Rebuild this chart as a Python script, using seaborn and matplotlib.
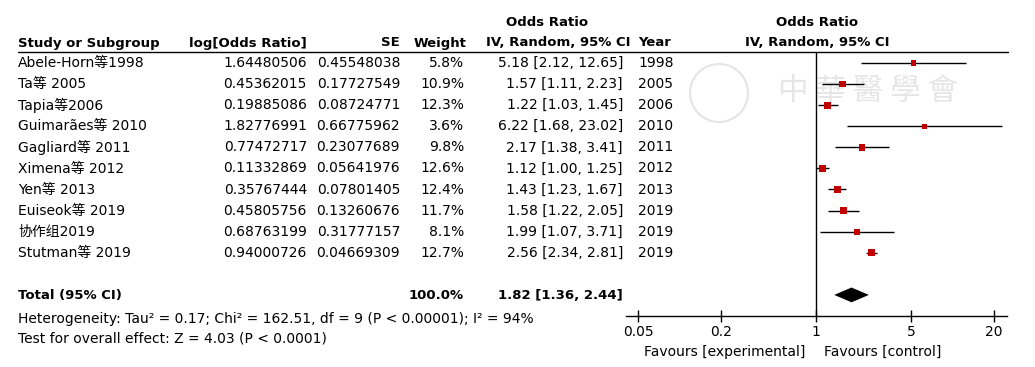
import numpy as np
import pandas as pd
import matplotlib
matplotlib.use('Agg')
import matplotlib.pyplot as plt
import seaborn as sns

sns.set_style('white')
plt.rcParams['font.family'] = ['DejaVu Sans', 'Noto Sans CJK SC']
plt.rcParams['text.color'] = 'black'
plt.rcParams['xtick.color'] = 'black'

# datos del forest plot
estudios = ['Abele-Horn等1998', 'Ta等 2005', 'Tapia等2006', 'Guimarães等 2010', 'Gagliard等 2011',
            'Ximena等 2012', 'Yen等 2013', 'Euiseok等 2019', '协作组2019', 'Stutman等 2019']
log_or = ['1.64480506', '0.45362015', '0.19885086', '1.82776991', '0.77472717',
          '0.11332869', '0.35767444', '0.45805756', '0.68763199', '0.94000726']
se = ['0.45548038', '0.17727549', '0.08724771', '0.66775962', '0.23077689',
      '0.05641976', '0.07801405', '0.13260676', '0.31777157', '0.04669309']
peso = [5.8, 10.9, 12.3, 3.6, 9.8, 12.6, 12.4, 11.7, 8.1, 12.7]
odds = [5.18, 1.57, 1.22, 6.22, 2.17, 1.12, 1.43, 1.58, 1.99, 2.56]
ic_inf = [2.12, 1.11, 1.03, 1.68, 1.38, 1.00, 1.23, 1.22, 1.07, 2.34]
ic_sup = [12.65, 2.23, 1.45, 23.02, 3.41, 1.25, 1.67, 2.05, 3.71, 2.81]
anios = [1998, 2005, 2006, 2010, 2011, 2012, 2013, 2019, 2019, 2019]

total_or = 1.82
total_inf = 1.36
total_sup = 2.44
ticks = [0.05, 0.2, 1, 5, 20]

df = pd.DataFrame({'estudio': estudios, 'or': odds, 'lo': ic_inf, 'hi': ic_sup,
                   'peso': peso, 'fila': np.arange(len(estudios))})
fila_total = len(estudios) + 1

fig = plt.figure(figsize=(10.35, 3.67), dpi=100)

# ejes de fondo en pixeles para la tabla
ax0 = fig.add_axes([0, 0, 1, 1])
ax0.set_xlim(0, 1035)
ax0.set_ylim(367, 0)
ax0.axis('off')

# marca de agua tenue
ax0.add_patch(plt.Circle((719, 93), 29, fill=False, ec='#e4e4e4', lw=1.5))
ax0.text(868, 92, '中 華 醫 學 會', ha='center', va='center', fontsize=22,
         color='#e6e6e6', family=['Noto Sans CJK TC'], style='italic')

y0, dy = 63, 21.1
fs = 10
fsb = 9.5

# encabezados
ax0.text(547, 23, 'Odds Ratio', ha='center', va='center', fontsize=fsb, fontweight='bold')
ax0.text(817, 23, 'Odds Ratio', ha='center', va='center', fontsize=fsb, fontweight='bold')
ax0.text(18, 43, 'Study or Subgroup', ha='left', va='center', fontsize=fsb, fontweight='bold')
ax0.text(307, 43, 'log[Odds Ratio]', ha='right', va='center', fontsize=fsb, fontweight='bold')
ax0.text(400, 43, 'SE', ha='right', va='center', fontsize=fsb, fontweight='bold')
ax0.text(466, 43, 'Weight', ha='right', va='center', fontsize=fsb, fontweight='bold')
ax0.text(630, 43, 'IV, Random, 95% CI', ha='right', va='center', fontsize=fsb, fontweight='bold')
ax0.text(671, 43, 'Year', ha='right', va='center', fontsize=fsb, fontweight='bold')
ax0.text(817, 43, 'IV, Random, 95% CI', ha='center', va='center', fontsize=fsb, fontweight='bold')
ax0.plot([18, 1008], [52, 52], color='black', lw=1)

for i in range(len(estudios)):
    y = y0 + dy * i
    ax0.text(18, y, estudios[i], ha='left', va='center', fontsize=fs)
    ax0.text(307, y, log_or[i], ha='right', va='center', fontsize=fs)
    ax0.text(400, y, se[i], ha='right', va='center', fontsize=fs)
    ax0.text(464, y, '%.1f%%' % peso[i], ha='right', va='center', fontsize=fs)
    ax0.text(623, y, '%.2f [%.2f, %.2f]' % (odds[i], ic_inf[i], ic_sup[i]),
             ha='right', va='center', fontsize=fs)
    ax0.text(638, y, str(anios[i]), ha='left', va='center', fontsize=fs)

yt = y0 + dy * fila_total
ax0.text(18, yt, 'Total (95% CI)', ha='left', va='center', fontsize=fsb, fontweight='bold')
ax0.text(464, yt, '100.0%', ha='right', va='center', fontsize=fsb, fontweight='bold')
ax0.text(623, yt, '%.2f [%.2f, %.2f]' % (total_or, total_inf, total_sup),
         ha='right', va='center', fontsize=fsb, fontweight='bold')
ax0.text(18, 319, 'Heterogeneity: Tau² = 0.17; Chi² = 162.51, df = 9 (P < 0.00001); I² = 94%',
         ha='left', va='center', fontsize=fs)
ax0.text(18, 339, 'Test for overall effect: Z = 4.03 (P < 0.0001)',
         ha='left', va='center', fontsize=fs)
ax0.text(805, 352, 'Favours [experimental]', ha='right', va='center', fontsize=fs)
ax0.text(824, 352, 'Favours [control]', ha='left', va='center', fontsize=fs)

# forest plot
ax = fig.add_axes([626 / 1035, 1 - 316 / 367, 381 / 1035, 264 / 367])
ax.set_xscale('log')
ax.patch.set_alpha(0)
ax.hlines(df['fila'], df['lo'], df['hi'], color='black', lw=1)
sns.scatterplot(data=df, x='or', y='fila', size='peso', sizes=(12, 26), marker='s',
                color='#c00000', edgecolor='none', legend=False, ax=ax, zorder=3)
ax.fill([total_inf, total_or, total_sup, total_or],
        [fila_total, fila_total - 0.35, fila_total, fila_total + 0.35], color='black', lw=0)
ax.axvline(1, color='black', lw=1)

ax.set_xlim(0.0405, 25.1)
ax.set_ylim(12.0, -0.52)
ax.set_xticks(ticks)
ax.set_xticklabels(['0.05', '0.2', '1', '5', '20'])
ax.minorticks_off()
ax.set_yticks([])
ax.set_xlabel('')
ax.set_ylabel('')
for s in ['top', 'left', 'right']:
    ax.spines[s].set_visible(False)
ax.spines['bottom'].set_color('black')
ax.spines['bottom'].set_linewidth(1)
ax.tick_params(axis='x', direction='inout', length=9, width=1, labelsize=fs, pad=2,
               bottom=True, color='black', labelcolor='black')

fig.savefig('out.png', dpi=100)
